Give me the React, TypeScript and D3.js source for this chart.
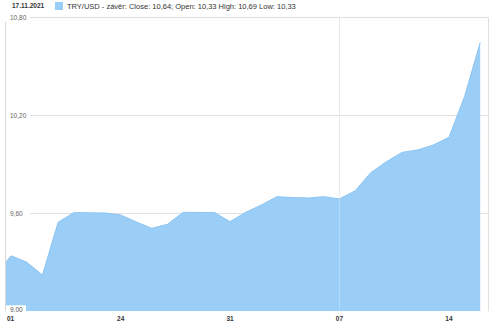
import React from "react";
import * as d3 from "d3";

const dates: string[] = [
  "2021-10-16","2021-10-17","2021-10-18","2021-10-19","2021-10-20","2021-10-21","2021-10-22","2021-10-23",
  "2021-10-24","2021-10-25","2021-10-26","2021-10-27","2021-10-28","2021-10-29","2021-10-30","2021-10-31",
  "2021-11-01","2021-11-02","2021-11-03","2021-11-04","2021-11-05","2021-11-06","2021-11-07","2021-11-08",
  "2021-11-09","2021-11-10","2021-11-11","2021-11-12","2021-11-13","2021-11-14","2021-11-15","2021-11-16",
];
const closeValues: number[] = [
  9.228, 9.34, 9.3, 9.222, 9.545, 9.604, 9.603, 9.602,
  9.59, 9.547, 9.508, 9.533, 9.606, 9.605, 9.605, 9.549,
  9.606, 9.651, 9.702, 9.696, 9.694, 9.702, 9.688, 9.738,
  9.849, 9.916, 9.973, 9.988, 10.018, 10.065, 10.315, 10.645,
];
const yTicks: number[] = [9.0, 9.6, 10.2, 10.8];
const yTickLabels: string[] = ["9.00", "9,60", "10,20", "10,80"];
const xTickDates: string[] = ["2021-10-17", "2021-10-24", "2021-10-31", "2021-11-07", "2021-11-14"];
const xTickLabels: string[] = ["01", "24", "31", "07", "14"];
const cursorDate = "2021-11-07";
const headerDate = "17.11.2021";
const legendText = "TRY/USD - závěr: Close: 10,64; Open: 10,33 High: 10,69 Low: 10,33";

const W = 500, H = 325;
const left = 6, right = 488, top = 17.3, bottom = 311.3;
const parse = (s: string) => new Date(s + "T00:00:00Z");

export default function App() {
  const x = d3.scaleUtc()
    .domain([new Date(Date.UTC(2021, 9, 16, 16)), new Date(Date.UTC(2021, 10, 16, 12))])
    .range([left, right]);
  const y = d3.scaleLinear().domain([9.0, 10.8]).range([bottom, top]);
  const data = dates.map((d, i) => ({ d: parse(d), v: closeValues[i] }));
  const area = d3.area<{ d: Date; v: number }>().x(p => x(p.d)).y0(bottom).y1(p => y(p.v));
  const line = d3.line<{ d: Date; v: number }>().x(p => x(p.d)).y(p => y(p.v));
  const font = "Arial, 'Liberation Sans', sans-serif";
  const cx = Math.round(x(parse(cursorDate))) + 0.5;

  return (
    <svg width={W} height={H} style={{ position: "absolute", left: 0, top: 0, background: "#fff" }} fontFamily={font}>
      <defs>
        <clipPath id="plot"><rect x={left} y={top} width={right - left} height={bottom - top} /></clipPath>
      </defs>
      {yTicks.slice(1).map((t, i) => (
        <line key={i} x1={30} x2={right} y1={Math.round(y(t)) + 0.5} y2={Math.round(y(t)) + 0.5} stroke="#e0e0e0" strokeWidth={1} />
      ))}
      <line x1={cx} x2={cx} y1={top} y2={bottom} stroke="#e2e2e2" />
      <line x1={right + 0.5} x2={right + 0.5} y1={top} y2={bottom} stroke="#e0e0e0" />
      <g clipPath="url(#plot)">
        <path d={area(data) || ""} fill="#9ACEF7" />
        <path d={line(data) || ""} fill="none" stroke="#8cc4f2" strokeWidth={1} />
        <line x1={cx} x2={cx} y1={top} y2={bottom} stroke="#ffffff" strokeOpacity={0.25} />
      </g>
      <line x1={left - 0.5} x2={left - 0.5} y1={22} y2={bottom} stroke="#d6d6d6" />
      {yTicks.map((t, i) =>
        i === 0 ? (
          <g key={i}>
            <rect x={left} y={bottom - 6} width={20} height={7} fill="#fff" />
            <text x={10} y={bottom + 1} fontSize={6.5} fill="#555">{yTickLabels[i]}</text>
          </g>
        ) : (
          <text key={i} x={10} y={y(t) + 2.3} fontSize={6.5} fill="#666">{yTickLabels[i]}</text>
        )
      )}
      {xTickDates.map((d, i) => (
        <text key={i} x={i === 0 ? 7 : x(parse(d))} y={321} fontSize={6.5} fontWeight="bold" fill="#333" textAnchor={i === 0 ? "start" : "middle"}>{xTickLabels[i]}</text>
      ))}
      <text x={12} y={8} fontSize={6.5} fontWeight="bold" fill="#333">{headerDate}</text>
      <rect x={55} y={2} width={8} height={8} fill="#9ACEF7" />
      <text x={67} y={8.5} fontSize={7.5} fill="#333">{legendText}</text>
    </svg>
  );
}
